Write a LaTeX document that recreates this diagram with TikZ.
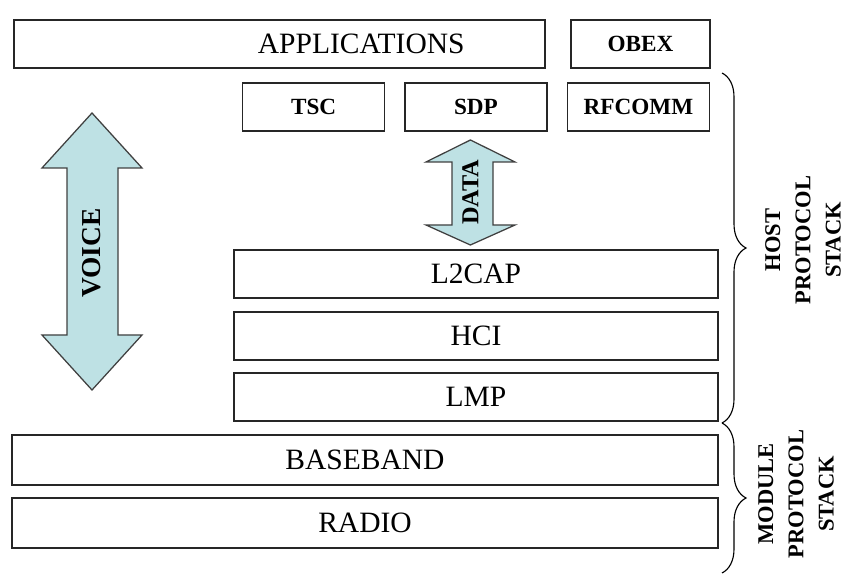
\documentclass[tikz,border=0pt]{standalone}
\usepackage{fontspec}
\setmainfont{Liberation Serif}
\usetikzlibrary{decorations.pathreplacing}
\definecolor{arrowblue}{RGB}{190,225,228}
\tikzset{
  layer/.style={draw=black!85, line width=1.2pt, inner sep=0pt, minimum height=1.2cm, font=\fontsize{21}{25}\selectfont},
  small/.style={layer, minimum width=3.55cm, font=\bfseries\fontsize{16.5}{20}\selectfont},
  flow/.style={draw=black!75, line width=0.9pt, fill=arrowblue},
  side/.style={rotate=90, align=center, font=\bfseries\fontsize{16}{21.5}\selectfont},
}
\begin{document}
\begin{tikzpicture}
        \useasboundingbox (0,0) rectangle (21.25,14.525);

        \node[layer, minimum width=13.275cm] (apps) at (6.99,13.425) {};
        \node[font=\fontsize{21}{25}\selectfont] (appstext) at (9.03,13.425) {APPLICATIONS};
        \node[small, minimum width=3.475cm] (obex) at (16.01,13.425) {OBEX};

        \node[small] (tsc) at (7.84,11.85) {TSC};
        \node[small] (sdp) at (11.9,11.85) {SDP};
        \node[small] (rfcomm) at (15.96,11.85) {RFCOMM};

        \node[layer, minimum width=12.1cm] (l2cap) at (11.9,7.675) {L2CAP};
        \node[layer, minimum width=12.1cm] (hci) at (11.9,6.125) {HCI};
        \node[layer, minimum width=12.1cm] (lmp) at (11.9,4.6) {LMP};

        \node[layer, minimum width=17.65cm, minimum height=1.25cm] (baseband) at (9.125,3.025) {BASEBAND};
        \node[layer, minimum width=17.65cm, minimum height=1.25cm] (radio) at (9.125,1.45) {RADIO};

        \filldraw[flow] (2.3,11.7) -- (3.55,10.325) -- (2.95,10.325) -- (2.95,6.15) -- (3.55,6.15) -- (2.3,4.775) -- (1.05,6.15) -- (1.675,6.15) -- (1.675,10.325) -- (1.05,10.325) -- cycle;
        \node[rotate=90, font=\bfseries\fontsize{19.5}{23}\selectfont] (voice) at (2.3,8.2) {VOICE};

        \filldraw[flow] (11.76,11.025) -- (12.875,10.475) -- (12.325,10.475) -- (12.325,8.9) -- (12.875,8.9) -- (11.76,8.4) -- (10.65,8.9) -- (11.3,8.9) -- (11.3,10.475) -- (10.65,10.475) -- cycle;
        \node[rotate=90, font=\bfseries\fontsize{17.3}{20}\selectfont] (data) at (11.76,9.72) {DATA};

        \coordinate (hosttop) at (18.05,12.7);
        \coordinate (hostbot) at (18.05,3.95);
        \coordinate (modbot) at (18.05,0.2);
        \draw[decorate, decoration={brace, amplitude=0.6cm}, line width=0.8pt] (hosttop) -- (hostbot);
        \draw[decorate, decoration={brace, amplitude=0.6cm}, line width=0.8pt] (hostbot) -- (modbot);

        \node[side] (host) at (20.075,8.525) {HOST\\PROTOCOL\\STACK};
        \node[side] (module) at (19.9,2.175) {MODULE\\PROTOCOL\\STACK};
    \end{tikzpicture}
\end{document}
